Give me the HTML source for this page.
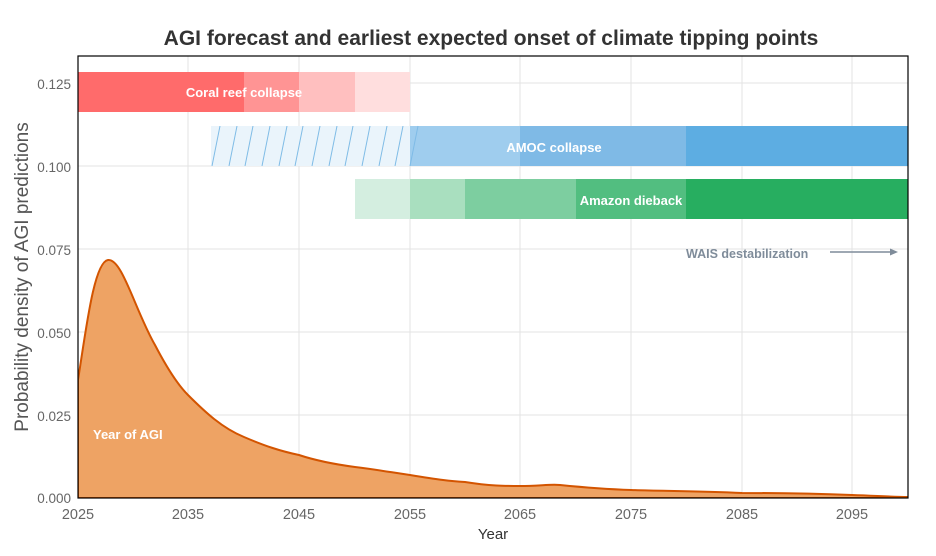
<!DOCTYPE html>
<html><head><meta charset="utf-8"><style>body{margin:0;background:#fff}svg{display:block}</style></head><body>
<svg width="936" height="556" xmlns="http://www.w3.org/2000/svg" font-family="Liberation Sans, sans-serif">
<defs><clipPath id="c"><rect x="78" y="56" width="830" height="442"/></clipPath>
<clipPath id="h"><rect x="211" y="126" width="199" height="40"/></clipPath></defs>
<text x="491" y="45" text-anchor="middle" font-size="21" font-weight="bold" fill="#333">AGI forecast and earliest expected onset of climate tipping points</text>
<g stroke="#e3e3e3" stroke-width="1">
<line x1="78" y1="83" x2="908" y2="83"/><line x1="78" y1="166" x2="908" y2="166"/><line x1="78" y1="249" x2="908" y2="249"/><line x1="78" y1="332" x2="908" y2="332"/><line x1="78" y1="415" x2="908" y2="415"/>
<line x1="188" y1="56" x2="188" y2="498"/><line x1="299" y1="56" x2="299" y2="498"/><line x1="410" y1="56" x2="410" y2="498"/><line x1="520" y1="56" x2="520" y2="498"/><line x1="631" y1="56" x2="631" y2="498"/><line x1="742" y1="56" x2="742" y2="498"/><line x1="852" y1="56" x2="852" y2="498"/>
</g>
<rect x="78" y="72" width="166" height="40" fill="#ff6b6b"/>
<rect x="244" y="72" width="55" height="40" fill="#ff9494"/>
<rect x="299" y="72" width="56" height="40" fill="#ffbfbf"/>
<rect x="355" y="72" width="55" height="40" fill="#ffdede"/>
<rect x="211" y="126" width="199" height="40" fill="#eaf4fb"/>
<g clip-path="url(#h)" stroke="#7fbbe6" stroke-width="1">
<line x1="212" y1="166" x2="220" y2="126"/><line x1="229" y1="166" x2="237" y2="126"/><line x1="245" y1="166" x2="253" y2="126"/><line x1="262" y1="166" x2="270" y2="126"/><line x1="279" y1="166" x2="287" y2="126"/><line x1="295" y1="166" x2="303" y2="126"/><line x1="312" y1="166" x2="320" y2="126"/><line x1="329" y1="166" x2="337" y2="126"/><line x1="345" y1="166" x2="353" y2="126"/><line x1="362" y1="166" x2="370" y2="126"/><line x1="379" y1="166" x2="387" y2="126"/><line x1="395" y1="166" x2="403" y2="126"/>
</g>
<rect x="410" y="126" width="110" height="40" fill="#9fcdee"/>
<rect x="520" y="126" width="166" height="40" fill="#7fbae6"/>
<rect x="686" y="126" width="222" height="40" fill="#5dade2"/>
<line x1="410" y1="166" x2="418" y2="126" stroke="#7fbbe6"/>
<rect x="355" y="179" width="55" height="40" fill="#d4eee0"/>
<rect x="410" y="179" width="55" height="40" fill="#a9dfbf"/>
<rect x="465" y="179" width="111" height="40" fill="#7dcea0"/>
<rect x="576" y="179" width="110" height="40" fill="#52be80"/>
<rect x="686" y="179" width="222" height="40" fill="#27ae60"/>
<g font-size="13" font-weight="bold" fill="#fff">
<text x="244" y="97" text-anchor="middle">Coral reef collapse</text>
<text x="554" y="152" text-anchor="middle">AMOC collapse</text>
<text x="631" y="205" text-anchor="middle">Amazon dieback</text>
</g>
<text x="686" y="258" font-size="12.5" font-weight="bold" fill="#7f8c9a">WAIS destabilization</text>
<line x1="830" y1="252" x2="893" y2="252" stroke="#7f8c9a" stroke-width="1.5"/>
<path d="M898 252 L890 248.5 L890 255.5Z" fill="#7f8c9a"/>
<g clip-path="url(#c)">
<path d="M78 380 C86 330 94 262 108 260 C122 258 135 310 155 345 C168 370 178 385 188 395 C205 412 222 428 244 437 C265 446 280 451 299 455 C320 462 340 465 355 467 C380 470 395 473 410 475 C440 480 450 481 465 482 C490 486 505 486 520 486 C540 486 550 484 560 485 C580 487 600 489 631 490 C660 491 700 491 742 493 C770 493 800 493 852 495 C880 496 895 497 910 497 L910 498 L78 498Z" fill="#eea364" stroke="#d35400" stroke-width="2"/>
</g>
<text x="93" y="439" font-size="13" font-weight="bold" fill="#fff">Year of AGI</text>
<rect x="78" y="56" width="830" height="442" fill="none" stroke="#000" stroke-width="1.2"/>
<g font-size="13.5" fill="#666" text-anchor="end">
<text x="71" y="89">0.125</text><text x="71" y="172">0.100</text><text x="71" y="255">0.075</text><text x="71" y="338">0.050</text><text x="71" y="421">0.025</text><text x="71" y="503">0.000</text>
</g>
<g font-size="14.5" fill="#666" text-anchor="middle">
<text x="78" y="519">2025</text><text x="188" y="519">2035</text><text x="299" y="519">2045</text><text x="410" y="519">2055</text><text x="520" y="519">2065</text><text x="631" y="519">2075</text><text x="742" y="519">2085</text><text x="852" y="519">2095</text>
</g>
<text x="493" y="539" font-size="15" fill="#333" text-anchor="middle">Year</text>
<text transform="translate(28,277) rotate(-90)" font-size="19" fill="#555" text-anchor="middle">Probability density of AGI predictions</text>
</svg>
</body></html>
